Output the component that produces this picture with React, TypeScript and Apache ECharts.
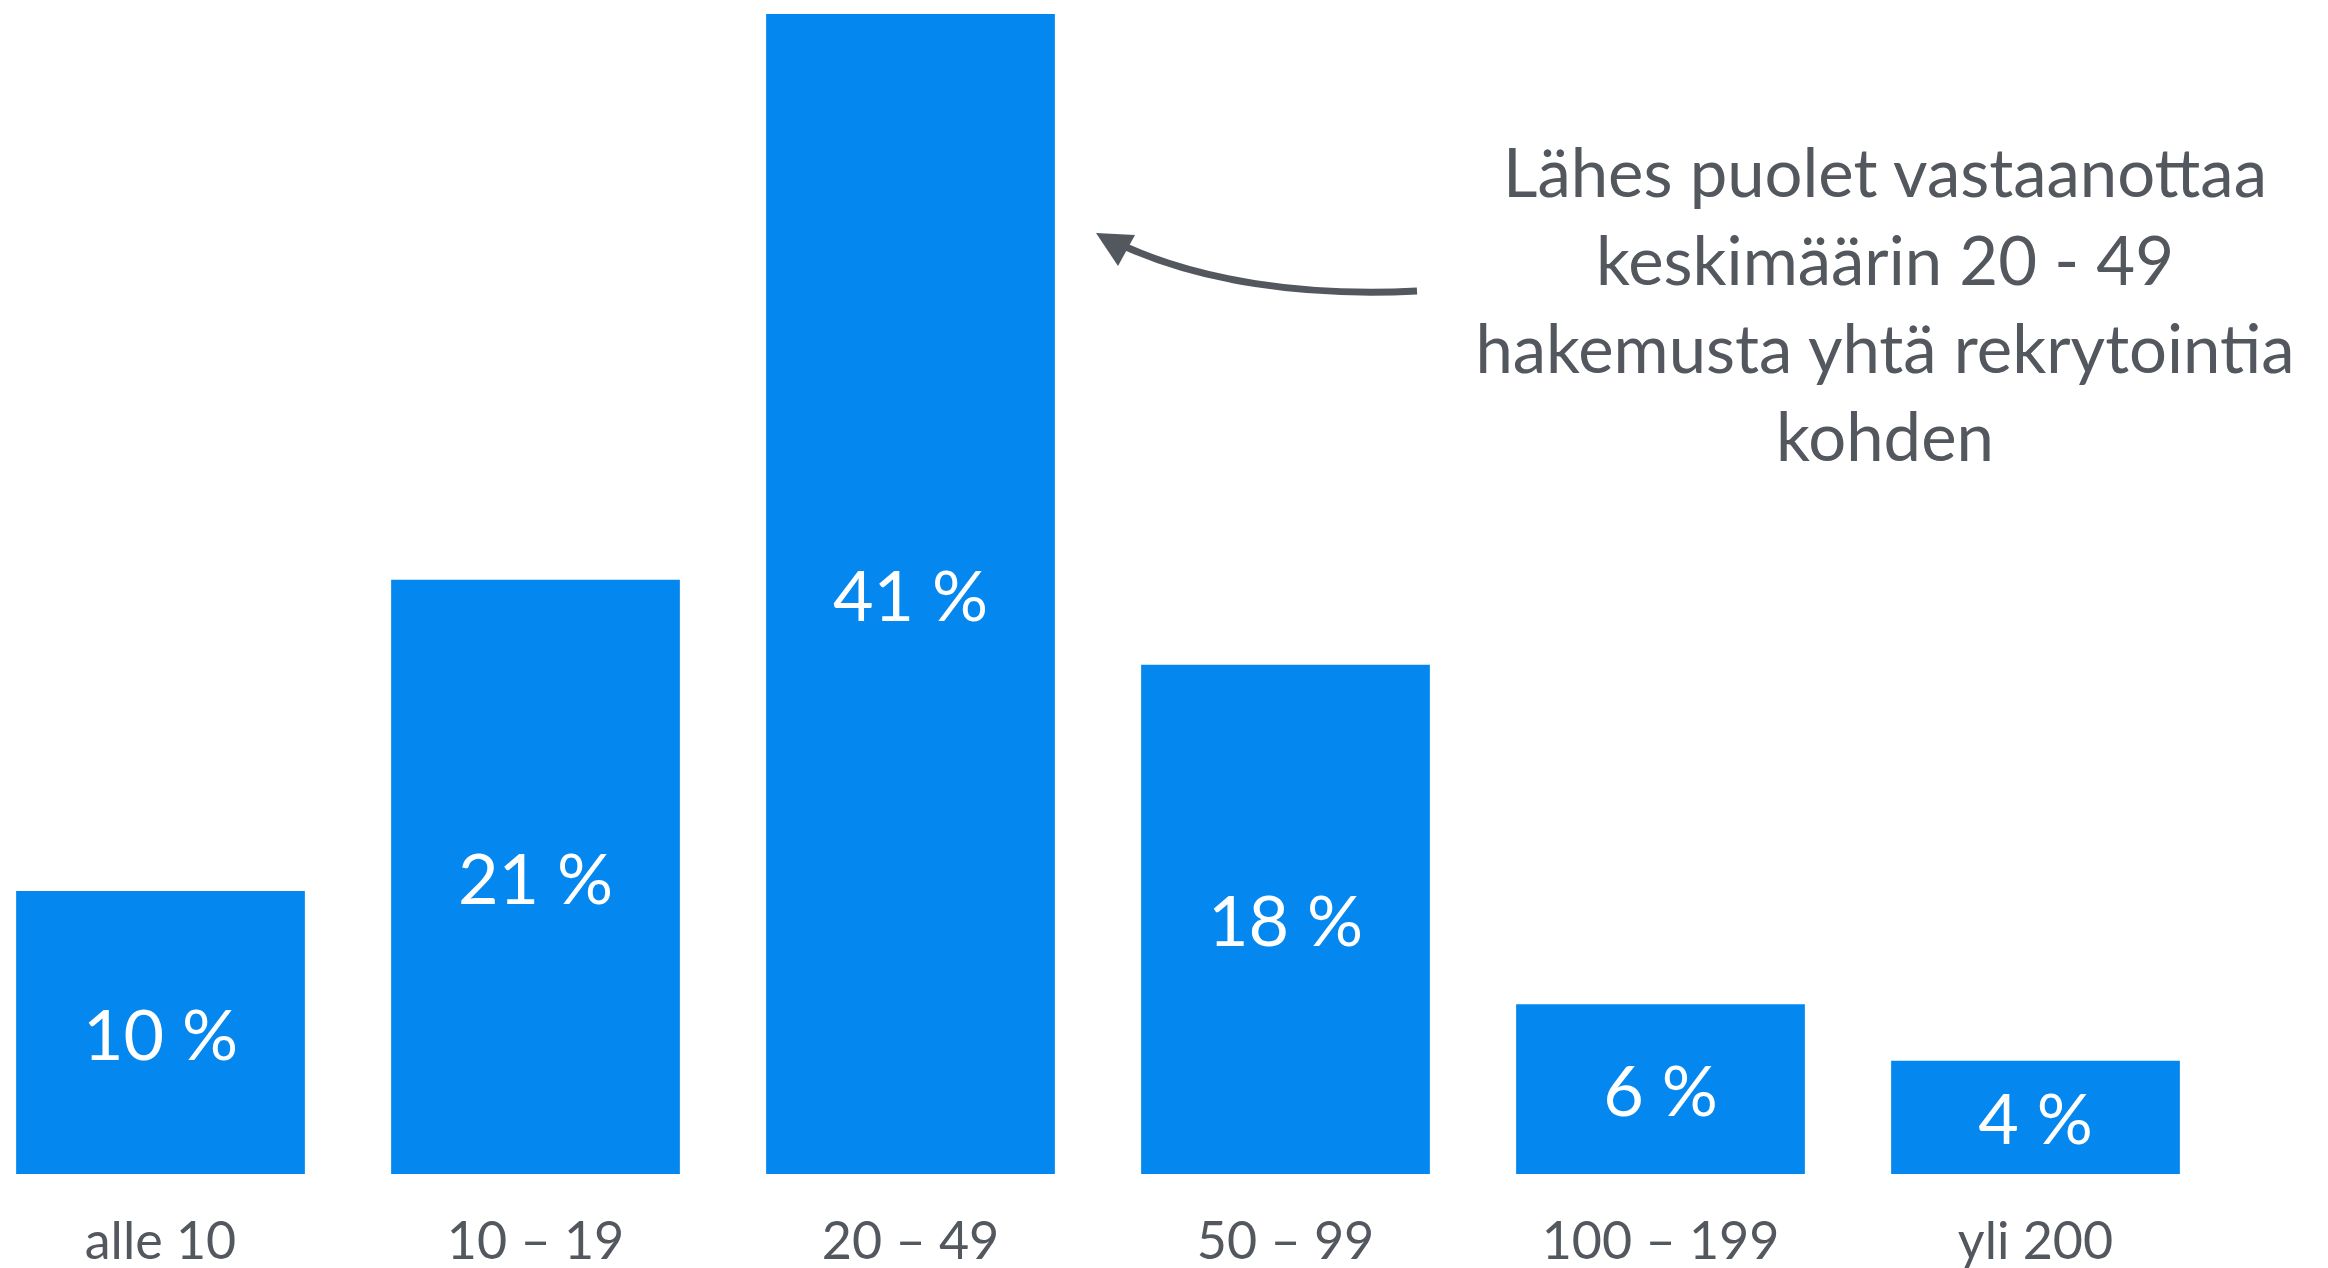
import React, { useEffect, useRef } from "react";
import * as echarts from "echarts";

const categories = ["alle 10", "10 – 19", "20 – 49", "50 – 99", "100 – 199", "yli 200"];
const shares = [10, 21, 41, 18, 6, 4];
const annotationLines = [
  "Lähes puolet vastaanottaa",
  "keskimäärin 20 - 49",
  "hakemusta yhtä rekrytointia",
  "kohden",
];

const BAR = "#0488ef";
const TEXT = "#53575e";
const FONT = "Lato, 'Noto Sans', sans-serif";
const OFF = 40; // container shifted left so the grid can start left of the page edge

export default function App() {
  const ref = useRef<HTMLDivElement>(null);
  useEffect(() => {
    if (!ref.current) return;
    const chart = echarts.init(ref.current, null, { renderer: "svg" });
    chart.setOption({
      animation: false,
      backgroundColor: "#ffffff",
      grid: { left: OFF - 27, width: 2250, top: 14, bottom: 94, containLabel: false },
      xAxis: {
        type: "category",
        data: categories,
        axisLine: { show: false },
        axisTick: { show: false },
        axisLabel: {
          color: TEXT,
          fontSize: 52,
          lineHeight: 44,
          fontFamily: FONT,
          margin: 43,
        },
      },
      yAxis: {
        type: "value",
        min: 0,
        max: 41,
        show: false,
        splitLine: { show: false },
      },
      series: [
        {
          type: "bar",
          data: shares,
          barCategoryGap: "23%",
          itemStyle: { color: BAR },
          label: {
            show: true,
            position: "inside",
            formatter: "{c} %",
            color: "#ffffff",
            fontSize: 70,
            fontFamily: FONT,
          },
        },
      ],
      graphic: [
        {
          type: "text",
          x: OFF + 1885,
          y: 127,
          style: {
            text: annotationLines.join("\n"),
            textAlign: "center",
            textVerticalAlign: "top",
            fill: TEXT,
            font: `67px ${FONT}`,
            lineHeight: 88,
          },
        },
        {
          type: "bezierCurve",
          shape: {
            x1: OFF + 1417,
            y1: 291,
            cpx1: OFF + 1300,
            cpy1: 297,
            cpx2: OFF + 1200,
            cpy2: 280,
            x2: OFF + 1126,
            y2: 247,
          },
          style: { stroke: TEXT, lineWidth: 7, fill: "none" },
        },
        {
          type: "polygon",
          shape: {
            points: [
              [OFF + 1096, 233],
              [OFF + 1135, 235],
              [OFF + 1118, 266],
            ],
          },
          style: { fill: TEXT },
        },
      ],
    });
    return () => chart.dispose();
  }, []);
  return (
    <div
      ref={ref}
      style={{ position: "fixed", left: -OFF, top: 0, width: 2328 + OFF, height: 1268 }}
    />
  );
}
